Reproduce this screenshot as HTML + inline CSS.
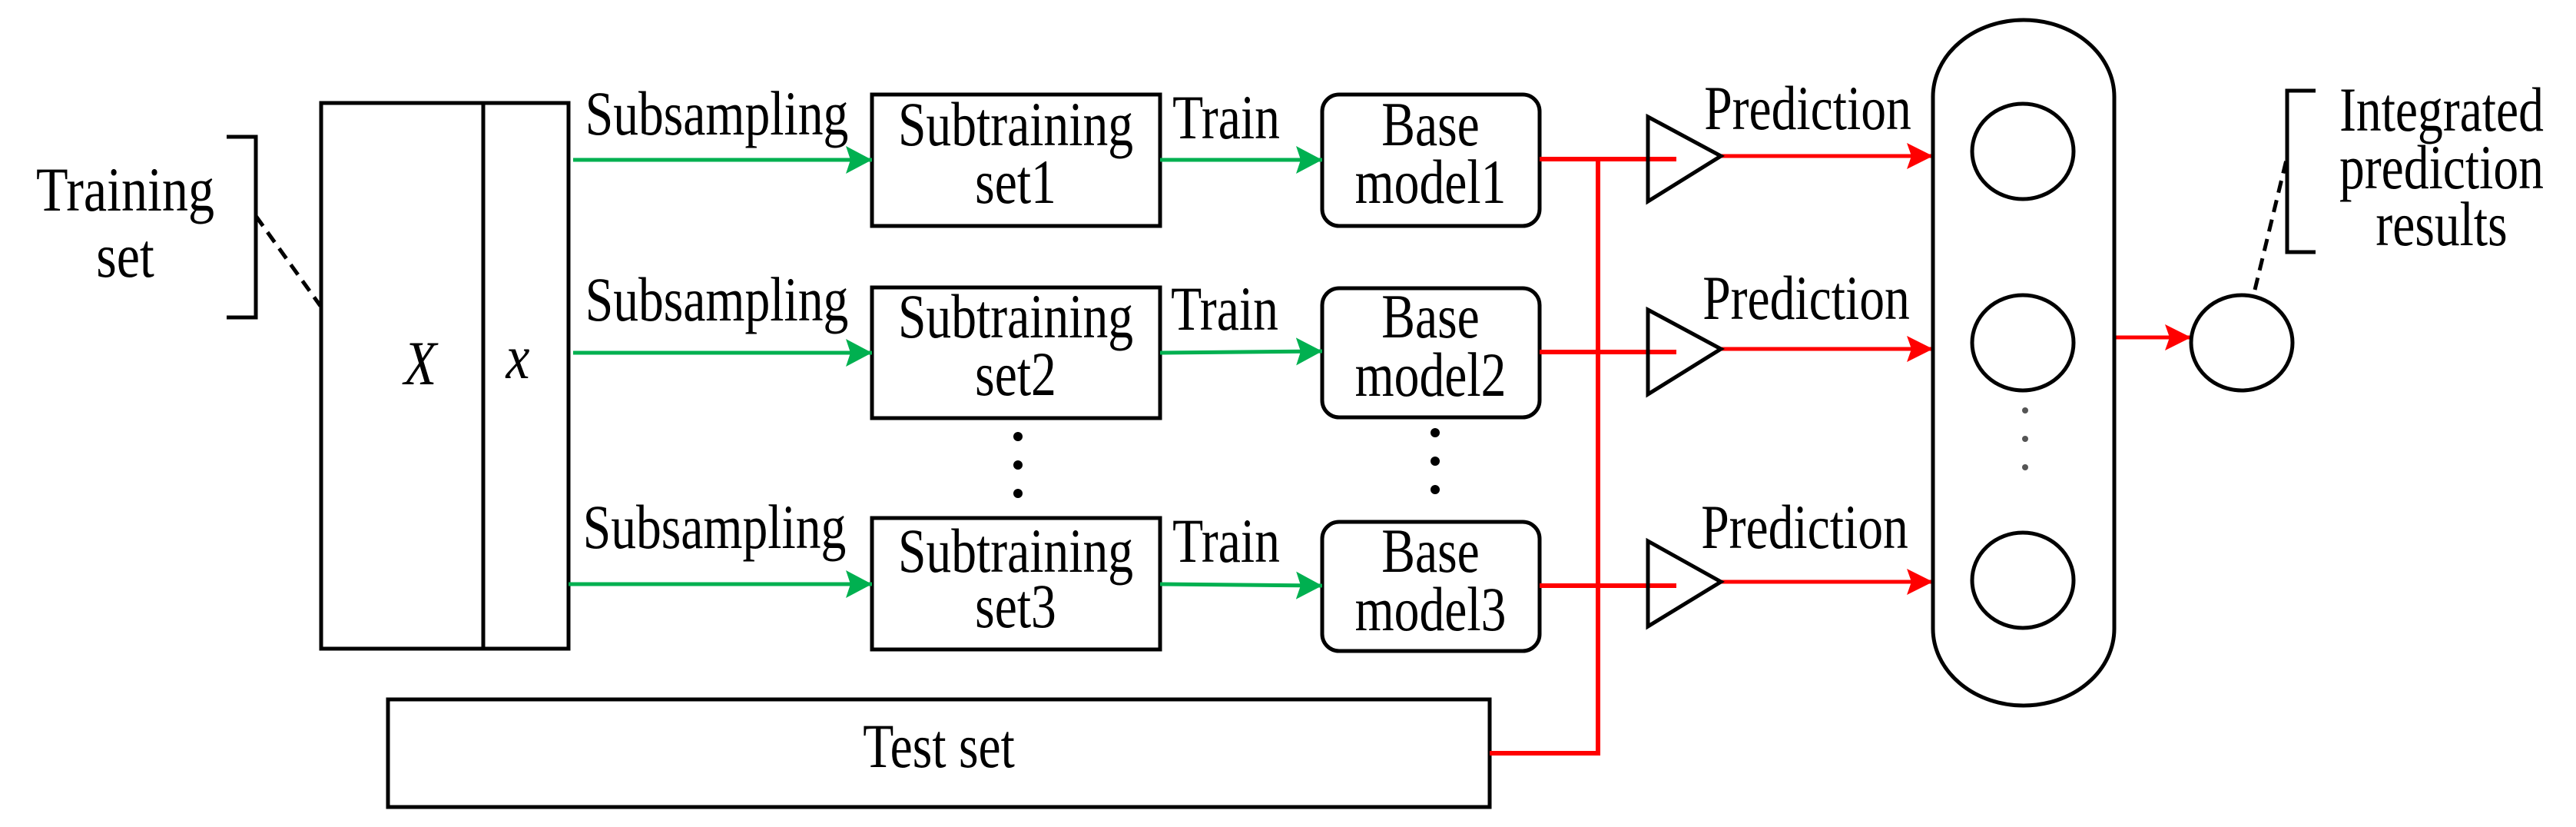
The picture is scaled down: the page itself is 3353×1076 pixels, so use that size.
<!DOCTYPE html>
<html><head><meta charset="utf-8"><style>
html,body{margin:0;padding:0;background:#fff;}
svg{display:block;}
text{font-family:"Liberation Serif",serif;font-size:82px;fill:#000;}
</style></head><body>
<svg width="3353" height="1076" viewBox="0 0 3353 1076" xmlns="http://www.w3.org/2000/svg">
<defs>
<marker id="ga" markerUnits="userSpaceOnUse" markerWidth="36" markerHeight="36" refX="34" refY="18" orient="auto"><path d="M0,0 L34,18 L0,36 L6,18 Z" fill="#00b050"/></marker>
<marker id="ra" markerUnits="userSpaceOnUse" markerWidth="36" markerHeight="36" refX="34" refY="18" orient="auto"><path d="M0,1 L34,18 L0,35 L6,18 Z" fill="#ff0000"/></marker>
</defs>
<g fill="none" stroke="#000" stroke-width="5">
<path d="M295,178 H333 V413 H295"/>
<path d="M333,281 L417,398" stroke-dasharray="16,10"/>
<rect x="418" y="134" width="322" height="710"/>
<line x1="629" y1="134" x2="629" y2="844"/>
<rect x="1135" y="123" width="375" height="171"/>
<rect x="1135" y="374" width="375" height="170"/>
<rect x="1135" y="674" width="375" height="171"/>
<rect x="1721" y="123" width="283" height="171" rx="22"/>
<rect x="1721" y="375" width="283" height="168" rx="22"/>
<rect x="1721" y="679" width="283" height="168" rx="22"/>
<rect x="505" y="910" width="1434" height="140"/>
</g>
<g fill="#000">
<circle cx="1325" cy="568" r="6"/><circle cx="1325" cy="605" r="6"/><circle cx="1325" cy="642" r="6"/>
<circle cx="1868" cy="563" r="6"/><circle cx="1868" cy="600" r="6"/><circle cx="1868" cy="637" r="6"/>
</g>
<g fill="#555">
<circle cx="2636" cy="534" r="4"/><circle cx="2636" cy="571" r="4"/><circle cx="2636" cy="608" r="4"/>
</g>
<g stroke="#00b050" stroke-width="5" fill="none">
<line x1="746" y1="208" x2="1135" y2="208" marker-end="url(#ga)"/>
<line x1="746" y1="459" x2="1135" y2="459" marker-end="url(#ga)"/>
<line x1="740" y1="760" x2="1135" y2="760" marker-end="url(#ga)"/>
<line x1="1510" y1="208" x2="1721" y2="208" marker-end="url(#ga)"/>
<line x1="1510" y1="459" x2="1721" y2="457" marker-end="url(#ga)"/>
<line x1="1510" y1="760" x2="1721" y2="762" marker-end="url(#ga)"/>
</g>
<g stroke="#ff0000" stroke-width="6" fill="none">
<line x1="2004" y1="207" x2="2182" y2="207"/>
<line x1="2004" y1="458" x2="2182" y2="458"/>
<line x1="2004" y1="762" x2="2182" y2="762"/>
<path d="M2080,207 V980 H1939"/>
</g>
<g stroke="#ff0000" stroke-width="5" fill="none">
<line x1="2240" y1="203" x2="2516" y2="203" marker-end="url(#ra)"/>
<line x1="2240" y1="454" x2="2516" y2="454" marker-end="url(#ra)"/>
<line x1="2240" y1="757" x2="2516" y2="757" marker-end="url(#ra)"/>
<line x1="2754" y1="439" x2="2852" y2="439" marker-end="url(#ra)"/>
</g>
<g fill="none" stroke="#000" stroke-width="5">
<path d="M2145,152 L2240,203 L2145,262 Z"/>
<path d="M2145,403 L2240,454 L2145,513 Z"/>
<path d="M2145,704 L2240,757 L2145,815 Z"/>
<path d="M2516,126 A118,100 0 0 1 2752,126 V818 A118,100 0 0 1 2516,818 Z"/>
<ellipse cx="2633" cy="197" rx="66" ry="62"/>
<ellipse cx="2633" cy="446" rx="66" ry="62"/>
<ellipse cx="2633" cy="755" rx="66" ry="62"/>
<ellipse cx="2918" cy="446" rx="66" ry="62"/>
<path d="M2935,377 L2977,204" stroke-dasharray="16,10"/>
<path d="M3014,118 H2977 V328 H3014"/>
</g>
<g text-anchor="middle">
<text transform="translate(163,274) scale(0.83,1)" font-size="92">Training</text>
<text transform="translate(163,360) scale(0.83,1)" font-size="92">set</text>
<text transform="translate(547,500) scale(0.85,1)" font-style="italic" font-size="72">X</text>
<text transform="translate(674,492) scale(0.85,1)" font-style="italic" font-size="72">x</text>
<text transform="translate(933,175) scale(0.8,1)">Subsampling</text>
<text transform="translate(933,417) scale(0.8,1)">Subsampling</text>
<text transform="translate(930,713) scale(0.8,1)">Subsampling</text>
<text transform="translate(1322,189) scale(0.8,1)">Subtraining</text>
<text transform="translate(1322,264) scale(0.8,1)">set1</text>
<text transform="translate(1322,439) scale(0.8,1)">Subtraining</text>
<text transform="translate(1322,514) scale(0.8,1)">set2</text>
<text transform="translate(1322,744) scale(0.8,1)">Subtraining</text>
<text transform="translate(1322,816) scale(0.8,1)">set3</text>
<text transform="translate(1596,180) scale(0.8,1)">Train</text>
<text transform="translate(1594,429) scale(0.8,1)">Train</text>
<text transform="translate(1596,731) scale(0.8,1)">Train</text>
<text transform="translate(1862,189) scale(0.8,1)">Base</text>
<text transform="translate(1862,264) scale(0.8,1)">model1</text>
<text transform="translate(1862,439) scale(0.8,1)">Base</text>
<text transform="translate(1862,515) scale(0.8,1)">model2</text>
<text transform="translate(1862,744) scale(0.8,1)">Base</text>
<text transform="translate(1862,820) scale(0.8,1)">model3</text>
<text transform="translate(2353,168) scale(0.8,1)">Prediction</text>
<text transform="translate(2351,415) scale(0.8,1)">Prediction</text>
<text transform="translate(2349,713) scale(0.8,1)">Prediction</text>
<text transform="translate(1222,998) scale(0.8,1)">Test set</text>
<text transform="translate(3178,170) scale(0.8,1)">Integrated</text>
<text transform="translate(3178,245) scale(0.8,1)">prediction</text>
<text transform="translate(3178,319) scale(0.8,1)">results</text>
</g>
</svg>
</body></html>
